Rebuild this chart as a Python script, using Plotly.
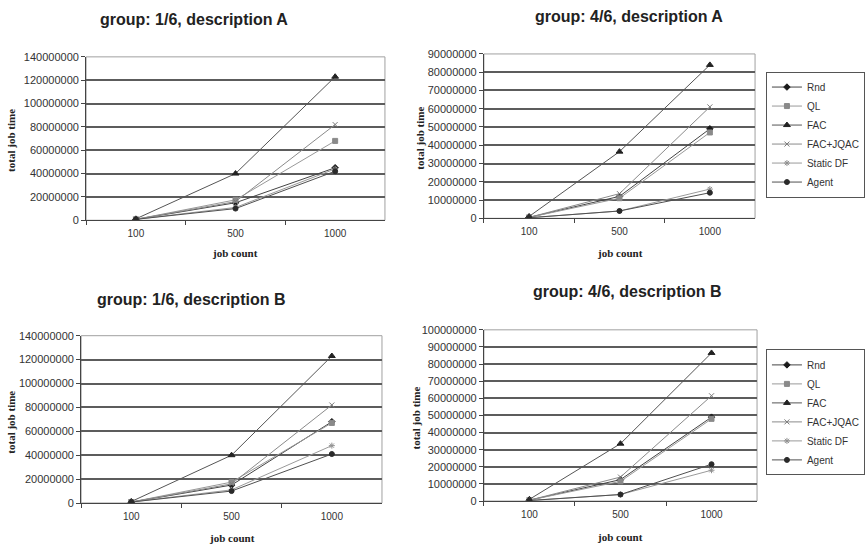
import plotly.graph_objects as go

# Job counts on the category axis
job_counts = ["100", "500", "1000"]

# Total job time per scheduler (values in millions)
series_names = ["Rnd", "QL", "FAC", "FAC+JQAC", "Static DF", "Agent"]

g1_descA = {
    "Rnd": [0.8, 15.0, 45.0],
    "QL": [0.8, 17.5, 68.0],
    "FAC": [1.2, 40.0, 123.0],
    "FAC+JQAC": [0.8, 16.0, 82.0],
    "Static DF": [0.8, 11.0, 44.0],
    "Agent": [0.8, 10.0, 42.0],
}
g4_descA = {
    "Rnd": [0.5, 12.0, 49.0],
    "QL": [0.5, 11.0, 47.0],
    "FAC": [1.0, 36.5, 84.0],
    "FAC+JQAC": [0.5, 13.5, 61.0],
    "Static DF": [0.3, 4.0, 16.0],
    "Agent": [0.3, 4.0, 14.0],
}
g1_descB = {
    "Rnd": [0.8, 15.0, 68.0],
    "QL": [0.8, 17.5, 67.0],
    "FAC": [1.2, 40.0, 123.0],
    "FAC+JQAC": [0.8, 16.0, 82.0],
    "Static DF": [0.8, 11.0, 48.0],
    "Agent": [0.8, 10.0, 41.0],
}
g4_descB = {
    "Rnd": [0.5, 12.5, 49.0],
    "QL": [0.5, 11.5, 48.0],
    "FAC": [1.0, 33.5, 86.5],
    "FAC+JQAC": [0.5, 14.0, 61.5],
    "Static DF": [0.3, 3.8, 18.0],
    "Agent": [0.3, 3.8, 21.5],
}

panel_titles = [
    "group: 1/6, description A",
    "group: 4/6, description A",
    "group: 1/6, description B",
    "group: 4/6, description B",
]
panel_data = [g1_descA, g4_descA, g1_descB, g4_descB]
y_max = [140e6, 90e6, 140e6, 100e6]
y_step = [20e6, 10e6, 20e6, 10e6]

W, H = 865, 554

# plot-area rectangles in pixels: (left, right, top, bottom)
boxes = [
    (87, 389, 52, 219),
    (489, 763, 49, 217),
    (82, 386, 337, 508),
    (489, 765, 331, 506),
]
title_pos = [(196, 14), (636, 11), (193, 300), (634, 292)]
ytitle_pos = [(11, 137), (424, 135), (11, 425), (420, 421)]
xtitle_pos = [(237, 252), (627, 252), (234, 544), (627, 543)]

styles = {
    "Rnd": dict(color="#1a1a1a", line="#444444", symbol="diamond", size=5),
    "QL": dict(color="#8a8a8a", line="#999999", symbol="square", size=5),
    "FAC": dict(color="#222222", line="#555555", symbol="triangle-up", size=6),
    "FAC+JQAC": dict(color="#7a7a7a", line="#8a8a8a", symbol="x-thin-open", size=5),
    "Static DF": dict(color="#909090", line="#9a9a9a", symbol="asterisk-open", size=5),
    "Agent": dict(color="#2a2a2a", line="#505050", symbol="circle", size=5),
}

sans = "Liberation Sans, Arial, sans-serif"
serif = "Liberation Serif, Times New Roman, serif"

fig = go.Figure()
layout = dict(
    width=W, height=H,
    margin=dict(l=0, r=0, t=0, b=0),
    paper_bgcolor="white", plot_bgcolor="white",
    annotations=[], shapes=[],
)

for i, data in enumerate(panel_data):
    n = i + 1
    xa = "x" if n == 1 else f"x{n}"
    ya = "y" if n == 1 else f"y{n}"
    left, right, top, bottom = boxes[i]
    legend_ref = None
    if n == 2:
        legend_ref = "legend"
    elif n == 4:
        legend_ref = "legend2"
    for name in series_names:
        st = styles[name]
        fig.add_trace(go.Scatter(
            x=job_counts,
            y=[v * 1e6 for v in data[name]],
            name=name,
            mode="lines+markers",
            line=dict(color=st["line"], width=1),
            marker=dict(symbol=st["symbol"], size=st["size"], color=st["color"],
                        line=dict(color=st["color"], width=1)),
            xaxis=xa, yaxis=ya,
            showlegend=legend_ref is not None,
            legend=legend_ref if legend_ref else "legend",
        ))
    key_x = "xaxis" if n == 1 else f"xaxis{n}"
    key_y = "yaxis" if n == 1 else f"yaxis{n}"
    layout[key_x] = dict(
        domain=[left / W, right / W],
        anchor=ya,
        type="category",
        range=[-0.5, 2.5],
        tickson="boundaries",
        ticks="outside", ticklen=4, tickcolor="#444",
        ticklabelstandoff=4,
        showline=True, linecolor="#444", linewidth=1,
        showgrid=False, zeroline=False,
        tickfont=dict(family=sans, size=10, color="#333"),
        fixedrange=True,
    )
    layout[key_y] = dict(
        domain=[1 - bottom / H, 1 - top / H],
        anchor=xa,
        range=[0, y_max[i]],
        dtick=y_step[i], tick0=0,
        tickformat="d",
        ticks="outside", ticklen=4, tickcolor="#444",
        showline=True, linecolor="#444", linewidth=1,
        showgrid=True, gridcolor="#5c5c5c", gridwidth=1.5,
        zeroline=False,
        tickfont=dict(family=sans, size=11, color="#333"),
        fixedrange=True,
    )
    # light frame around the plot area
    layout["shapes"].append(dict(
        type="rect", xref=f"{xa} domain", yref=f"{ya} domain",
        x0=0, x1=1, y0=0, y1=1,
        line=dict(color="#a0a0a0", width=1), layer="below",
    ))
    tx, ty = title_pos[i]
    layout["annotations"].append(dict(
        text=f"<b>{panel_titles[i]}</b>", xref="paper", yref="paper",
        x=tx / W, y=1 - ty / H, showarrow=False,
        xanchor="center", yanchor="middle",
        font=dict(family=sans, size=16, color="#222"),
    ))
    yx, yy = ytitle_pos[i]
    layout["annotations"].append(dict(
        text="<b>total job time</b>", xref="paper", yref="paper",
        x=yx / W, y=1 - yy / H, showarrow=False, textangle=-90,
        xanchor="center", yanchor="middle",
        font=dict(family=serif, size=11, color="#222"),
    ))
    xx, xy = xtitle_pos[i]
    layout["annotations"].append(dict(
        text="<b>job count</b>", xref="paper", yref="paper",
        x=xx / W, y=1 - xy / H, showarrow=False,
        xanchor="center", yanchor="middle",
        font=dict(family=serif, size=11, color="#222"),
    ))

legend_common = dict(
    xanchor="left", yanchor="top",
    bgcolor="white", bordercolor="#555", borderwidth=1,
    font=dict(family=sans, size=10, color="#333"),
    tracegroupgap=0, itemwidth=30,
)
layout["legend"] = dict(x=774 / W, y=1 - 67 / H, **legend_common)
layout["legend2"] = dict(x=774 / W, y=1 - 351 / H, **legend_common)

fig.update_layout(**layout)
fig.write_html("out.html")
